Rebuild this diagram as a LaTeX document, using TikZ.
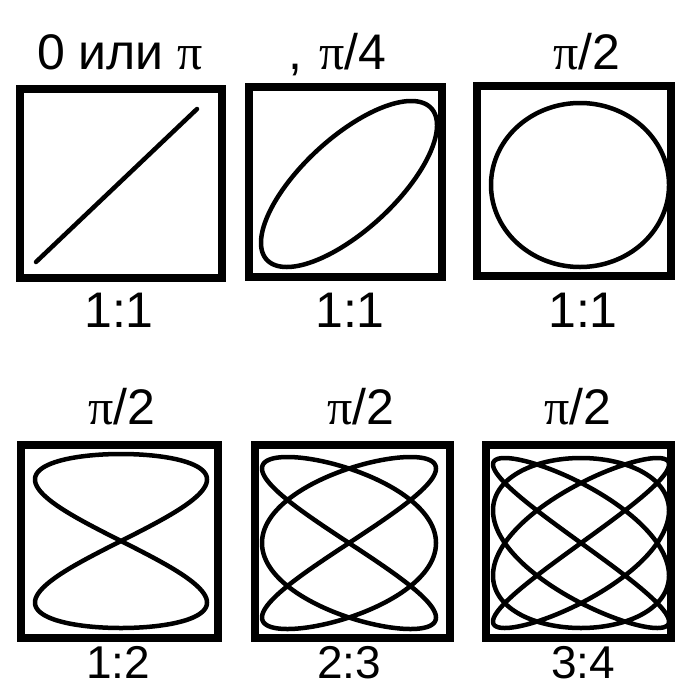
\documentclass[tikz,border=0pt]{standalone}
\usepackage{fontspec}
\setmainfont{Liberation Sans}
\newfontfamily\pifont{Liberation Serif}
\newcommand{\ppi}{{\pifont π}}
\usetikzlibrary{positioning}

\begin{document}
\begin{tikzpicture}[x=1pt,y=-1pt,
  frame/.style={draw, line width=8pt, inner sep=0pt},
  curve/.style={line width=4.5pt, line join=round},
  lbl/.style={font=\fontsize{50}{50}\selectfont, anchor=base, inner sep=0pt},
  lowlbl/.style={lbl, font=\fontsize{46}{46}\selectfont, text depth=0pt}]
\useasboundingbox (0,0) rectangle (676,685);
% Frames, top row
\node[frame, minimum width=202pt, minimum height=189pt] (b1) at (121,183.5) {};
\node[frame, minimum width=193pt, minimum height=190pt] (b2) at (345.5,182) {};
\node[frame, minimum width=194pt, minimum height=190pt] (b3) at (574,181) {};
% Frames, bottom row
\node[frame, minimum width=197pt, minimum height=193pt] (b4) at (119.5,541.5) {};
\node[frame, minimum width=195pt, minimum height=193pt] (b5) at (352,541.5) {};
\node[frame, minimum width=185pt, minimum height=193pt] (b6) at (578.5,541.5) {};
% Lissajous figures: x = sin(q t), y = sin(p t + phase)
\foreach \b/\dx/\dy/\ax/\ay/\p/\q/\ph in {b1/-4.5/2/80.5/76.5/1/1/0,
    b2/3.5/2/88/83/1/1/45, b3/6/4/89/82/1/1/90,
    b4/1.5/-0.5/86/87/1/2/0, b5/-3/1.5/87/86/2/3/0, b6/2.5/1.5/88/85/3/4/0} {
  \draw[curve, shift={(\b.center)}] plot[domain=0:360, samples=721, variable=\t]
    ({\dx+\ax*sin(\q*\t)}, {\dy-\ay*sin(\p*\t+\ph)});
}
% Phase labels and ratios
\node[lbl] (t1) at (120,70) {0 или \ppi};
\node[lbl, anchor=base west] (t2) at (288,70) {,\hspace{17pt}\ppi/4};
\node[lbl] (t3) at (587,70) {\ppi/2};
\node[lbl] (r1) at (119,327) {1:1};
\node[lbl] (r2) at (350,327) {1:1};
\node[lbl] (r3) at (583,327) {1:1};
\node[lbl] (t4) at (122,424) {\ppi/2};
\node[lbl] (t5) at (361,424) {\ppi/2};
\node[lbl] (t6) at (578,424) {\ppi/2};
\node[lowlbl] (r4) at (118,678) {1:2};
\node[lowlbl] (r5) at (349,678) {2:3};
\node[lowlbl] (r6) at (583,678) {3:4};
\end{tikzpicture}
\end{document}
